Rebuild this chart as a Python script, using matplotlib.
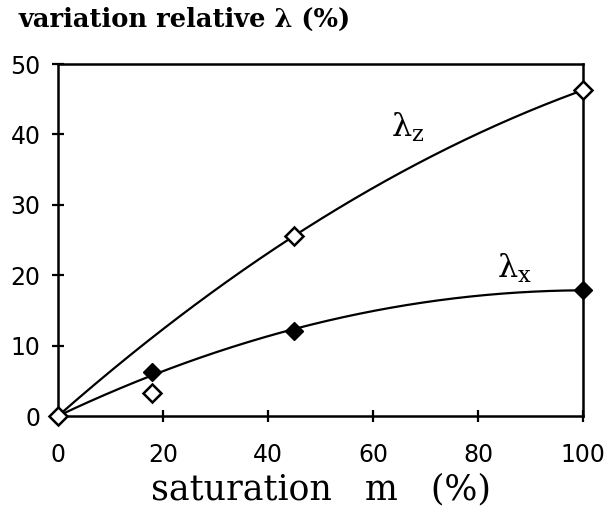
import numpy as np
import matplotlib
matplotlib.use("Agg")
import matplotlib.pyplot as plt

# saturation m (%) and relative variation of lambda (%)
m_z = [0, 18, 45, 100]
lam_z = [0, 3.3, 25.6, 46.3]
m_x = [0, 18, 45, 100]
lam_x = [0, 6.25, 12.1, 17.9]

xticks = [0, 20, 40, 60, 80, 100]
yticks = [0, 10, 20, 30, 40, 50]

fig = plt.figure(figsize=(6.1, 5.08), dpi=100)
ax = fig.add_axes([0.095, 0.181, 0.861, 0.693])

xs = np.linspace(0, 100, 200)
# trend curves: quadratics through the origin
# (the lambda_z curve ignores the outlying point at 18 %)
mz = np.array(m_z, float)[[0, 2, 3]]
lz = np.array(lam_z, float)[[0, 2, 3]]
cz, *_ = np.linalg.lstsq(np.column_stack([mz, mz ** 2]), lz, rcond=None)
ax.plot(xs, cz[0] * xs + cz[1] * xs ** 2, color='black', lw=1.6)
mx = np.array(m_x, float)
cx, *_ = np.linalg.lstsq(np.column_stack([mx, mx ** 2]), lam_x, rcond=None)
ax.plot(xs, cx[0] * xs + cx[1] * xs ** 2, color='black', lw=1.6)

ax.plot(m_z, lam_z, 'D', ms=9, mfc='white', mec='black', mew=1.8, clip_on=False, zorder=5)
ax.plot(m_x[1:], lam_x[1:], 'D', ms=9, mfc='black', mec='black', clip_on=False, zorder=5)

ax.text(63.5, 41, 'λ$_\\mathregular{z}$', fontsize=23, family='DejaVu Serif', va='center')
ax.text(83.5, 21, 'λ$_\\mathregular{x}$', fontsize=23, family='DejaVu Serif', va='center')

ax.set_xlim(0, 100)
ax.set_ylim(0, 50)
ax.set_xticks(xticks)
ax.set_yticks(yticks)
ax.tick_params(direction='inout', length=9, width=1.6, labelsize=17, pad=8)
ax.tick_params(axis='x', pad=15)
for s in ax.spines.values():
    s.set_linewidth(1.8)

ax.set_xlabel('saturation   m   (%)', fontsize=25, family='DejaVu Serif', labelpad=4)
fig.text(0.03, 0.962, 'variation relative λ (%)', fontsize=18.5, family='DejaVu Serif',
         weight='bold', va='center')

fig.savefig('out.png', dpi=100)
